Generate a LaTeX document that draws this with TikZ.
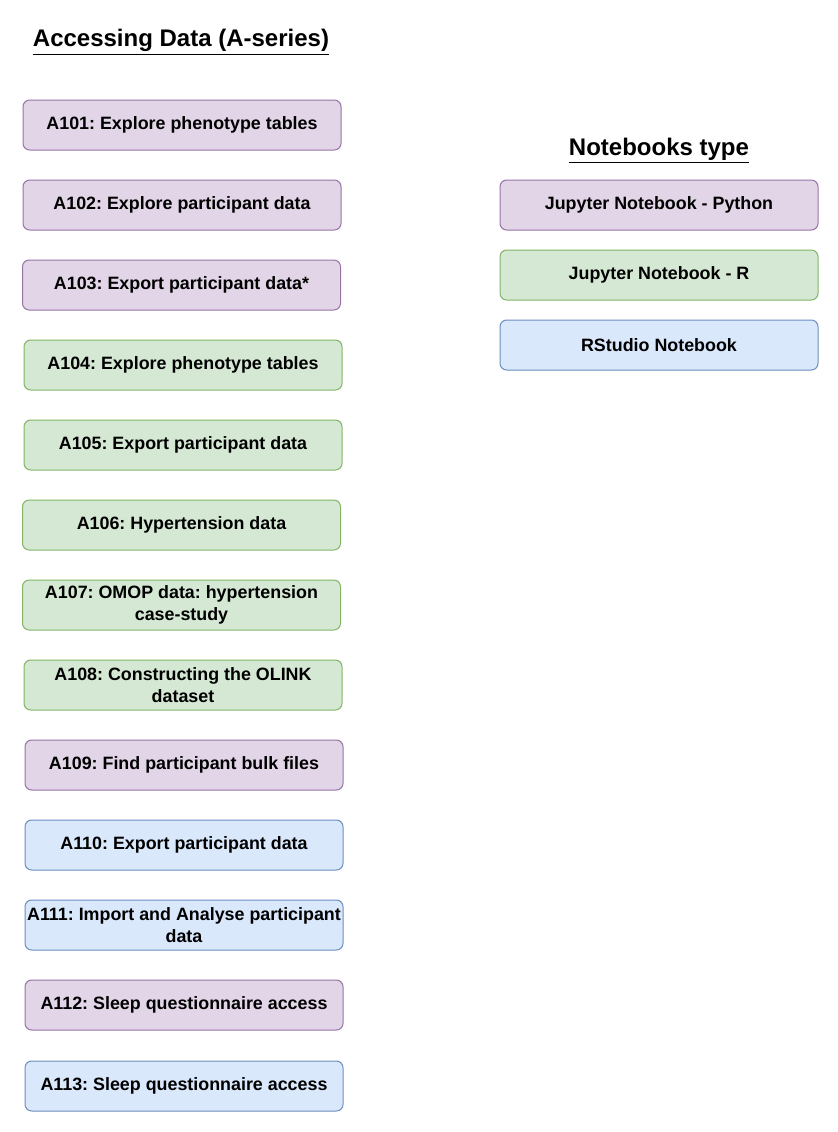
\documentclass[tikz,border=0pt]{standalone}
\usepackage{fontspec}
\setmainfont{Liberation Sans}
\usepackage{tikz}
\usetikzlibrary{positioning}
\definecolor{pyFill}{HTML}{E1D5E7}
\definecolor{pyDraw}{HTML}{9673A6}
\definecolor{rFill}{HTML}{D5E8D4}
\definecolor{rDraw}{HTML}{82B366}
\definecolor{rsFill}{HTML}{DAE8FC}
\definecolor{rsDraw}{HTML}{6C8EBF}
\frenchspacing

\begin{document}
\begin{tikzpicture}[
		x=0.75pt, y=-0.75pt,
		nb/.style={rectangle, rounded corners=5pt, line width=0.75pt, minimum width=238.5pt, minimum height=37.5pt, align=center, inner sep=0pt, font=\bfseries\fontsize{13.4}{16.5}\selectfont},
		py/.style={nb, fill=pyFill, draw=pyDraw},
		rr/.style={nb, fill=rFill, draw=rDraw},
		rs/.style={nb, fill=rsFill, draw=rsDraw},
		head/.style={font=\bfseries\fontsize{18}{21}\selectfont}
		]
		\useasboundingbox (0,0) rectangle (838,1132);
		
		% ===== titles =====
		\node[head] (tA) at (181,42) {\underline{Accessing Data (A-series)}};
		\node[head] (tN) at (659,151) {\underline{Notebooks type}};
		
		% ===== A-series boxes =====
		\foreach \x/\y/\s/\t [count=\i from 1] in {
			182/125/py/{A101: Explore phenotype tables},
			182/205/py/{A102: Explore participant data},
			181.5/285/py/{A103: Export participant data*},
			183/365/rr/{A104: Explore phenotype tables},
			183/445/rr/{A105: Export participant data},
			181.5/525/rr/{A106: Hypertension data},
			181.5/605/rr/{A107: OMOP data: hypertension\\case-study},
			183/685/rr/{A108: Constructing the OLINK\\dataset},
			184/765/py/{A109: Find participant bulk files},
			184/845/rs/{A110: Export participant data},
			184/925/rs/{A111: Import and Analyse participant\\data},
			184/1005/py/{A112: Sleep questionnaire access},
			184/1086/rs/{A113: Sleep questionnaire access}}{
			\node[\s] (A\i) at (\x,\y) {\t};
		}
		
		% ===== notebook legend =====
		\node[py] (kPy) at (659,205) {Jupyter Notebook - Python};
		\node[rr] (kR) at (659,275) {Jupyter Notebook - R};
		\node[rs] (kRS) at (659,345) {RStudio Notebook};
		
	\end{tikzpicture}
\end{document}
